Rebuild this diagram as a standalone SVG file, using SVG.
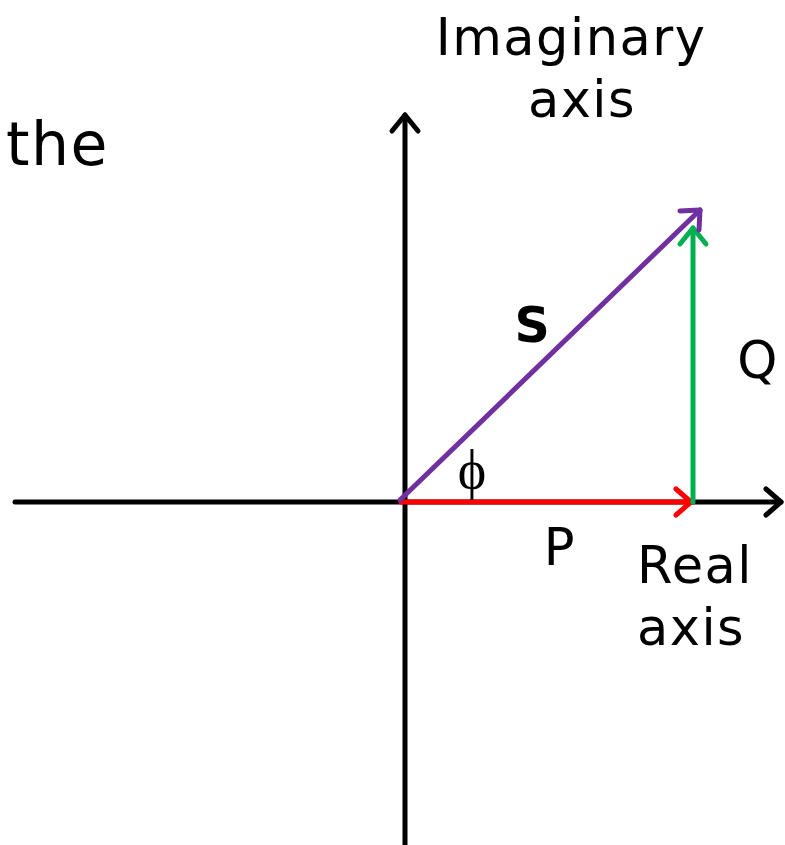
<svg xmlns="http://www.w3.org/2000/svg" width="785" height="845" viewBox="0 0 785 845">
<style>
.t{font-family:"DejaVu Sans",Verdana,sans-serif;fill:#000;letter-spacing:1.5px}
.ln{fill:none;stroke-width:5;stroke-linecap:round;stroke-linejoin:round}
</style>
<rect width="785" height="845" fill="#fff"/>
<g id="connectors">
<g id="real-axis"><line class="ln" x1="15" y1="502" x2="781" y2="502" stroke="#000" stroke-linecap="butt"/><polyline class="ln" points="766,489 781,502 766,515" stroke="#000"/></g>
<g id="imag-axis"><line class="ln" x1="405" y1="845" x2="405" y2="115" stroke="#000" stroke-linecap="butt"/><polyline class="ln" points="392,131 405,115 418,131" stroke="#000"/></g>
<g id="P-vector"><line class="ln" x1="401" y1="502" x2="691" y2="502" stroke="#f00"/><polyline class="ln" points="676,489 691,502 676,515" stroke="#f00"/></g>
<g id="Q-vector"><line class="ln" x1="693" y1="502" x2="693" y2="228" stroke="#00b050"/><polyline class="ln" points="680,244 693,228 706,244" stroke="#00b050"/></g>
<g id="S-vector"><line class="ln" x1="400" y1="500" x2="700" y2="210" stroke="#7030a0"/><polyline class="ln" points="680,211 700,210 699,230" stroke="#7030a0"/></g>
</g>
<g id="labels">
<text class="t" x="571" y="55" font-size="51" text-anchor="middle">Imaginary</text>
<text class="t" x="582" y="117" font-size="51" text-anchor="middle">axis</text>
<text class="t" x="6" y="165" font-size="60">the</text>
<text class="t" x="533" y="342" font-size="49" font-weight="bold" text-anchor="middle">S</text>
<text class="t" x="758" y="378" font-size="51" text-anchor="middle">Q</text>
<text class="t" x="560" y="565" font-size="51" text-anchor="middle">P</text>
<text class="t" x="637" y="583" font-size="51">Real</text>
<text class="t" x="637" y="645" font-size="51">axis</text>
<text x="472" y="488" font-size="54" text-anchor="middle" style="font-family:'Liberation Serif','Times New Roman',serif">ϕ</text>
</g>
</svg>
